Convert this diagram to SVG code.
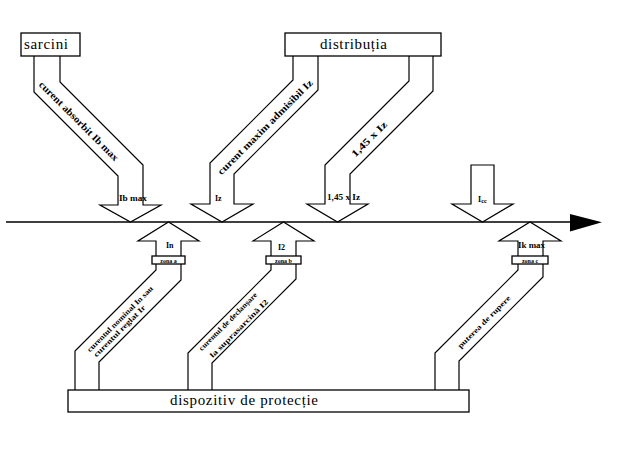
<svg xmlns="http://www.w3.org/2000/svg" width="620" height="449" viewBox="0 0 620 449">
<style>
.box{fill:#fff;stroke:#000;stroke-width:1.3}
.arr{fill:#fff;stroke:#000;stroke-width:1.2;stroke-linejoin:miter}
.big{font-family:"Liberation Serif","Times New Roman",serif;font-size:15px;fill:#000}
.band{font-family:"Liberation Serif",serif;font-size:10px;font-weight:bold;fill:#000;text-anchor:middle}
.bandS{font-family:"Liberation Serif",serif;font-size:7.5px;font-weight:bold;fill:#000;text-anchor:middle}
.lab{font-family:"Liberation Serif",serif;font-size:8px;font-weight:bold;fill:#000}
.zone{font-family:"Liberation Serif",serif;font-size:6px;font-weight:bold;fill:#000;text-anchor:middle}
</style>
<rect width="620" height="449" fill="#fff"/>
<g id="connectors">
  <line x1="6" y1="222" x2="572" y2="222" stroke="#000" stroke-width="1.3"/>
  <polygon points="570,214 602,222.3 570,231.5" fill="#000"/>
  <path class="arr" d="M34,56 V92 L118,176 V205 H100 L130.5,222 L161,205 H143 V165 L60,82 V56"/>
  <path class="arr" d="M293,56 V80 L210,163 V204 H191 L222,222 L253,204 H234 V174 L318,90 V56"/>
  <path class="arr" d="M409,56 V81 L325,165 V204 H307 L337.5,222 L368,204 H350 V174 L433,91 V56"/>
  <path class="arr" d="M471,165 H494 V204 H513 L482.5,222 L452,204 H471 Z"/>
  <path class="arr" d="M75,390 V351 L156,270 V241 H138 L168.5,222 L199,241 H181 V280 L99,362 V390"/>
  <path class="arr" d="M188,390 V353 L271,270 V241 H253 L283.5,222 L314,241 H296 V279 L212,363 V390"/>
  <path class="arr" d="M435,390 V353 L518,270 V241 H499 L530,222 L561,241 H543 V277 L459,361 V390"/>
  <text class="band" transform="translate(79,121) rotate(45)" x="0" y="3.5" textLength="108" lengthAdjust="spacingAndGlyphs">curent absorbit Ib max</text>
  <text class="band" transform="translate(265,127) rotate(-45)" x="0" y="3.5" textLength="130" lengthAdjust="spacingAndGlyphs">curent maxim admisibil Iz</text>
  <text class="band" transform="translate(369,139) rotate(-45)" x="0" y="3.5" textLength="46" lengthAdjust="spacingAndGlyphs">1,45 x Iz</text>
  <text class="bandS" transform="translate(120,319) rotate(-45)" x="0" y="2.5" textLength="90" lengthAdjust="spacingAndGlyphs">curentul nominal In sau</text>
  <text class="bandS" transform="translate(119.5,331) rotate(-45)" x="0" y="2.5" textLength="70" lengthAdjust="spacingAndGlyphs">curentul reglat Ir</text>
  <text class="bandS" transform="translate(228,321.5) rotate(-45)" x="0" y="2.5" textLength="79" lengthAdjust="spacingAndGlyphs">curentul de declanșare</text>
  <text class="bandS" transform="translate(239,328.5) rotate(-45)" x="0" y="2.5" textLength="79" lengthAdjust="spacingAndGlyphs">la suprasarcină I2</text>
  <text class="bandS" transform="translate(484,322) rotate(-45)" x="0" y="2.5" textLength="71" lengthAdjust="spacingAndGlyphs">puterea de rupere</text>
  <text class="lab" x="119" y="201" textLength="28" lengthAdjust="spacingAndGlyphs">Ib max</text>
  <text class="lab" x="215" y="201">Iz</text>
  <text class="lab" x="327" y="200" textLength="33" lengthAdjust="spacingAndGlyphs">1,45 x Iz</text>
  <text class="lab" x="478" y="202">I<tspan font-size="6.5" dy="1">cc</tspan></text>
  <text class="lab" x="166" y="248">In</text>
  <text class="lab" x="278" y="250">I2</text>
  <text class="lab" x="518" y="248" textLength="27" lengthAdjust="spacingAndGlyphs">Ik max</text>
</g>
<g id="node-sarcini">
  <rect class="box" x="21" y="33" width="59" height="23"/>
  <text class="big" x="24" y="49" textLength="44" lengthAdjust="spacing">sarcini</text>
</g>
<g id="node-distributia">
  <rect class="box" x="285" y="33" width="156" height="23"/>
  <text class="big" x="320" y="49" textLength="67" lengthAdjust="spacing">distribuția</text>
</g>
<g id="node-dispozitiv">
  <rect class="box" x="68" y="390" width="401" height="22"/>
  <text class="big" x="170" y="405" textLength="148" lengthAdjust="spacing">dispozitiv de protecție</text>
</g>
<g id="node-zona-a">
  <rect class="box" x="152" y="256" width="33" height="8"/>
  <text class="zone" x="168.5" y="262.5">zona a</text>
</g>
<g id="node-zona-b">
  <rect class="box" x="266" y="256" width="35" height="8"/>
  <text class="zone" x="283.5" y="262.5">zona b</text>
</g>
<g id="node-zona-c">
  <rect class="box" x="512" y="256" width="36" height="8"/>
  <text class="zone" x="530" y="262.5">zona c</text>
</g>
</svg>
